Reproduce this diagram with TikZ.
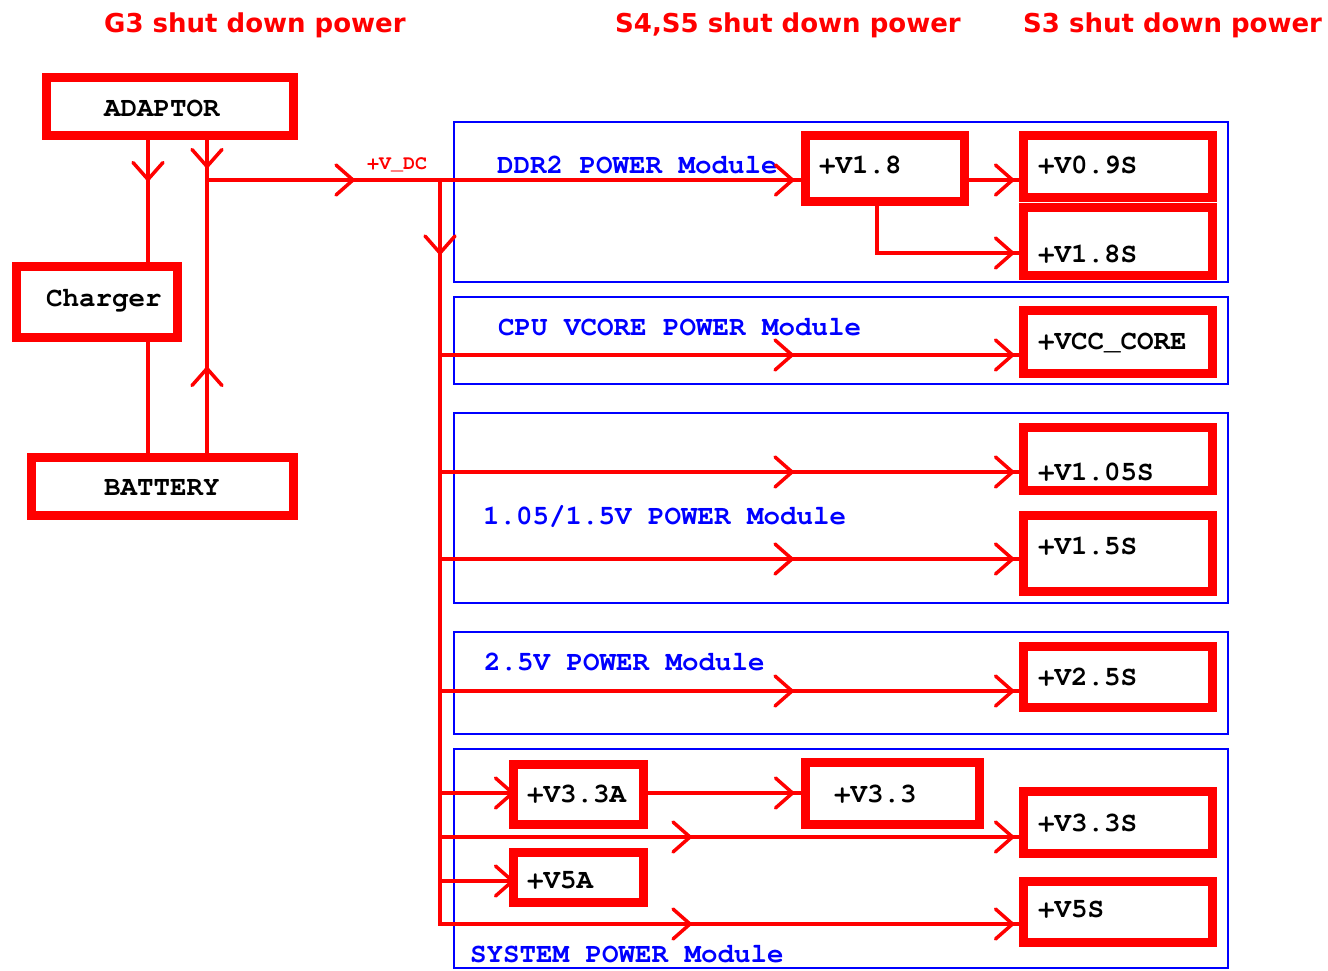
\documentclass[tikz,border=0pt]{standalone}
\usepackage{fontspec}
\newfontfamily\cour{TeX Gyre Cursor}
\newfontfamily\hdrfont{DejaVu Sans}
\usetikzlibrary{decorations.markings}
\tikzset{
  pbox/.style={draw=red, line width=9pt, inner sep=0pt, outer sep=0pt},
  modbox/.style={draw=blue, line width=1.5pt},
  wire/.style={draw=red, line width=3.5pt, line cap=rect},
  armstyle/.style={draw=red, line width=3.5pt, line cap=round, line join=round},
  boxtxt/.style={inner sep=0pt, anchor=base west, text=black, font=\cour\bfseries\fontsize{27.5}{30}\selectfont},
  modtxt/.style={boxtxt, text=blue},
  hdr/.style={inner sep=0pt, anchor=base west, text=red, font=\hdrfont\bfseries\fontsize{26}{30}\selectfont},
  smalltxt/.style={inner sep=0pt, anchor=base west, text=red, font=\cour\bfseries\fontsize{20}{22}\selectfont},
  tips/.style={postaction=decorate, decoration={markings, #1}},
}
\newcommand\barb{\draw[armstyle] (-17pt,15pt) -- (0pt,0pt) -- (-17pt,-15pt);}
\begin{document}
\begin{tikzpicture}[x=1pt,y=-1pt]
\useasboundingbox (0,0) rectangle (1328,971);
% headings
\node[hdr] (h1) at (104,33) {G3 shut down power};
\node[hdr] (h2) at (615,33) {S4,S5 shut down power};
\node[hdr] (h3) at (1023,33) {S3 shut down power};
% module frames
\draw[modbox] (454,122) rectangle (1228,282);
\draw[modbox] (454,297) rectangle (1228,384);
\draw[modbox] (454,413) rectangle (1228,603);
\draw[modbox] (454,632) rectangle (1228,734);
\draw[modbox] (454,749) rectangle (1228,968);
% module titles
\node[modtxt] (m1) at (497,174) {DDR2 POWER Module};
\node[modtxt] (m2) at (498,335) {CPU VCORE POWER Module};
\node[modtxt] (m3) at (483,524) {1.05/1.5V POWER Module};
\node[modtxt] (m4) at (484,670) {2.5V POWER Module};
\node[modtxt] (m5) at (470,962) {SYSTEM POWER Module};
% red boxes
\node[pbox, minimum width=247pt, minimum height=58pt] (adaptor) at (170,106.5) {};
\node[pbox, minimum width=161pt, minimum height=71pt] (charger) at (97,302) {};
\node[pbox, minimum width=262pt, minimum height=58pt] (battery) at (162.5,486.5) {};
\node[pbox, minimum width=159pt, minimum height=66pt] (v18) at (885,168.5) {};
\node[pbox, minimum width=189pt, minimum height=62pt] (v09) at (1118,166.5) {};
\node[pbox, minimum width=189pt, minimum height=68pt] (v18s) at (1118,241.5) {};
\node[pbox, minimum width=189pt, minimum height=63pt] (vcc) at (1118,342) {};
\node[pbox, minimum width=189pt, minimum height=63pt] (v105) at (1118,459) {};
\node[pbox, minimum width=189pt, minimum height=76pt] (v15) at (1118,553.5) {};
\node[pbox, minimum width=189pt, minimum height=61pt] (v25) at (1118,677) {};
\node[pbox, minimum width=130pt, minimum height=60pt] (v33a) at (578.5,794.5) {};
\node[pbox, minimum width=174pt, minimum height=62pt] (v33) at (892.5,793.5) {};
\node[pbox, minimum width=189pt, minimum height=62pt] (v33s) at (1118,822.5) {};
\node[pbox, minimum width=130pt, minimum height=50pt] (v5a) at (578.5,877.5) {};
\node[pbox, minimum width=189pt, minimum height=61pt] (v5s) at (1118,912) {};
% box texts
\node[boxtxt] (tadaptor) at (104,117) {ADAPTOR};
\node[boxtxt] (tcharger) at (46,306) {Charger};
\node[boxtxt] (tbattery) at (104,495) {BATTERY};
\node[boxtxt] (tv18) at (819,174) {+V1.8};
\node[boxtxt] (tv09) at (1038,174) {+V0.9S};
\node[boxtxt] (tv18s) at (1038,262) {+V1.8S};
\node[boxtxt] (tvcc) at (1038,349) {+VCC\_CORE};
\node[boxtxt] (tv105) at (1038,480) {+V1.05S};
\node[boxtxt] (tv15) at (1038,554) {+V1.5S};
\node[boxtxt] (tv25) at (1038,685) {+V2.5S};
\node[boxtxt] (tv33a) at (527,802) {+V3.3A};
\node[boxtxt] (tv33) at (834,802) {+V3.3};
\node[boxtxt] (tv33s) at (1038,831) {+V3.3S};
\node[boxtxt] (tv5a) at (527,888) {+V5A};
\node[boxtxt] (tv5s) at (1038,917) {+V5S};
\node[smalltxt] (vdc) at (367,170) {+V\_DC};
% helper coordinates
\coordinate (xL) at (148,0);
\coordinate (xR) at (207,0);
\coordinate (jn) at (207,180);
\coordinate (bt) at (440,180);
\coordinate (bb) at (440,924);
\coordinate (c18) at (877,253);
\coordinate (t1) at (440,355);
\coordinate (t2) at (440,472);
\coordinate (t3) at (440,559);
\coordinate (t4) at (440,691);
\coordinate (t5) at (440,793);
\coordinate (t6) at (440,837);
\coordinate (t7) at (440,881);
% left side
\draw[wire, tips={mark=at position 44pt with {\barb}}] (adaptor.south -| xL) -- (charger.north -| xL);
\draw[wire] (charger.south -| xL) -- (battery.north -| xL);
\draw[wire, tips={mark=at position 31pt with {\barb}}] (adaptor.south -| xR) -- (jn);
\draw[wire, tips={mark=at position 89pt with {\barb}}] (battery.north -| xR) -- (jn);
\draw[wire, tips={mark=at position 146pt with {\barb}, mark=at position -13pt with {\barb}}] (jn) -- (v18.west |- jn);
% bus
\draw[wire, tips={mark=at position 73pt with {\barb}}] (bt) -- (bb);
% DDR2
\draw[wire, tips={mark=at position -11pt with {\barb}}] (v18.east |- jn) -- (v09.west |- jn);
\draw[wire, tips={mark=at position -11pt with {\barb}}] (v18.south -| c18) -- (c18) -- (v18s.west |- c18);
% CPU
\draw[wire, tips={mark=at position 352pt with {\barb}, mark=at position -11pt with {\barb}}] (t1) -- (vcc.west |- t1);
% 1.05 / 1.5
\draw[wire, tips={mark=at position 352pt with {\barb}, mark=at position -11pt with {\barb}}] (t2) -- (v105.west |- t2);
\draw[wire, tips={mark=at position 352pt with {\barb}, mark=at position -11pt with {\barb}}] (t3) -- (v15.west |- t3);
% 2.5
\draw[wire, tips={mark=at position 352pt with {\barb}, mark=at position -11pt with {\barb}}] (t4) -- (v25.west |- t4);
% system
\draw[wire, tips={mark=at position -1pt with {\barb}}] (t5) -- (v33a.west |- t5);
\draw[wire, tips={mark=at position -13pt with {\barb}}] (v33a.east |- t5) -- (v33.west |- t5);
\draw[wire, tips={mark=at position 250pt with {\barb}, mark=at position -11pt with {\barb}}] (t6) -- (v33s.west |- t6);
\draw[wire, tips={mark=at position -1pt with {\barb}}] (t7) -- (v5a.west |- t7);
\draw[wire, tips={mark=at position 250pt with {\barb}, mark=at position -11pt with {\barb}}] (bb) -- (v5s.west |- bb);
\end{tikzpicture}
\end{document}
